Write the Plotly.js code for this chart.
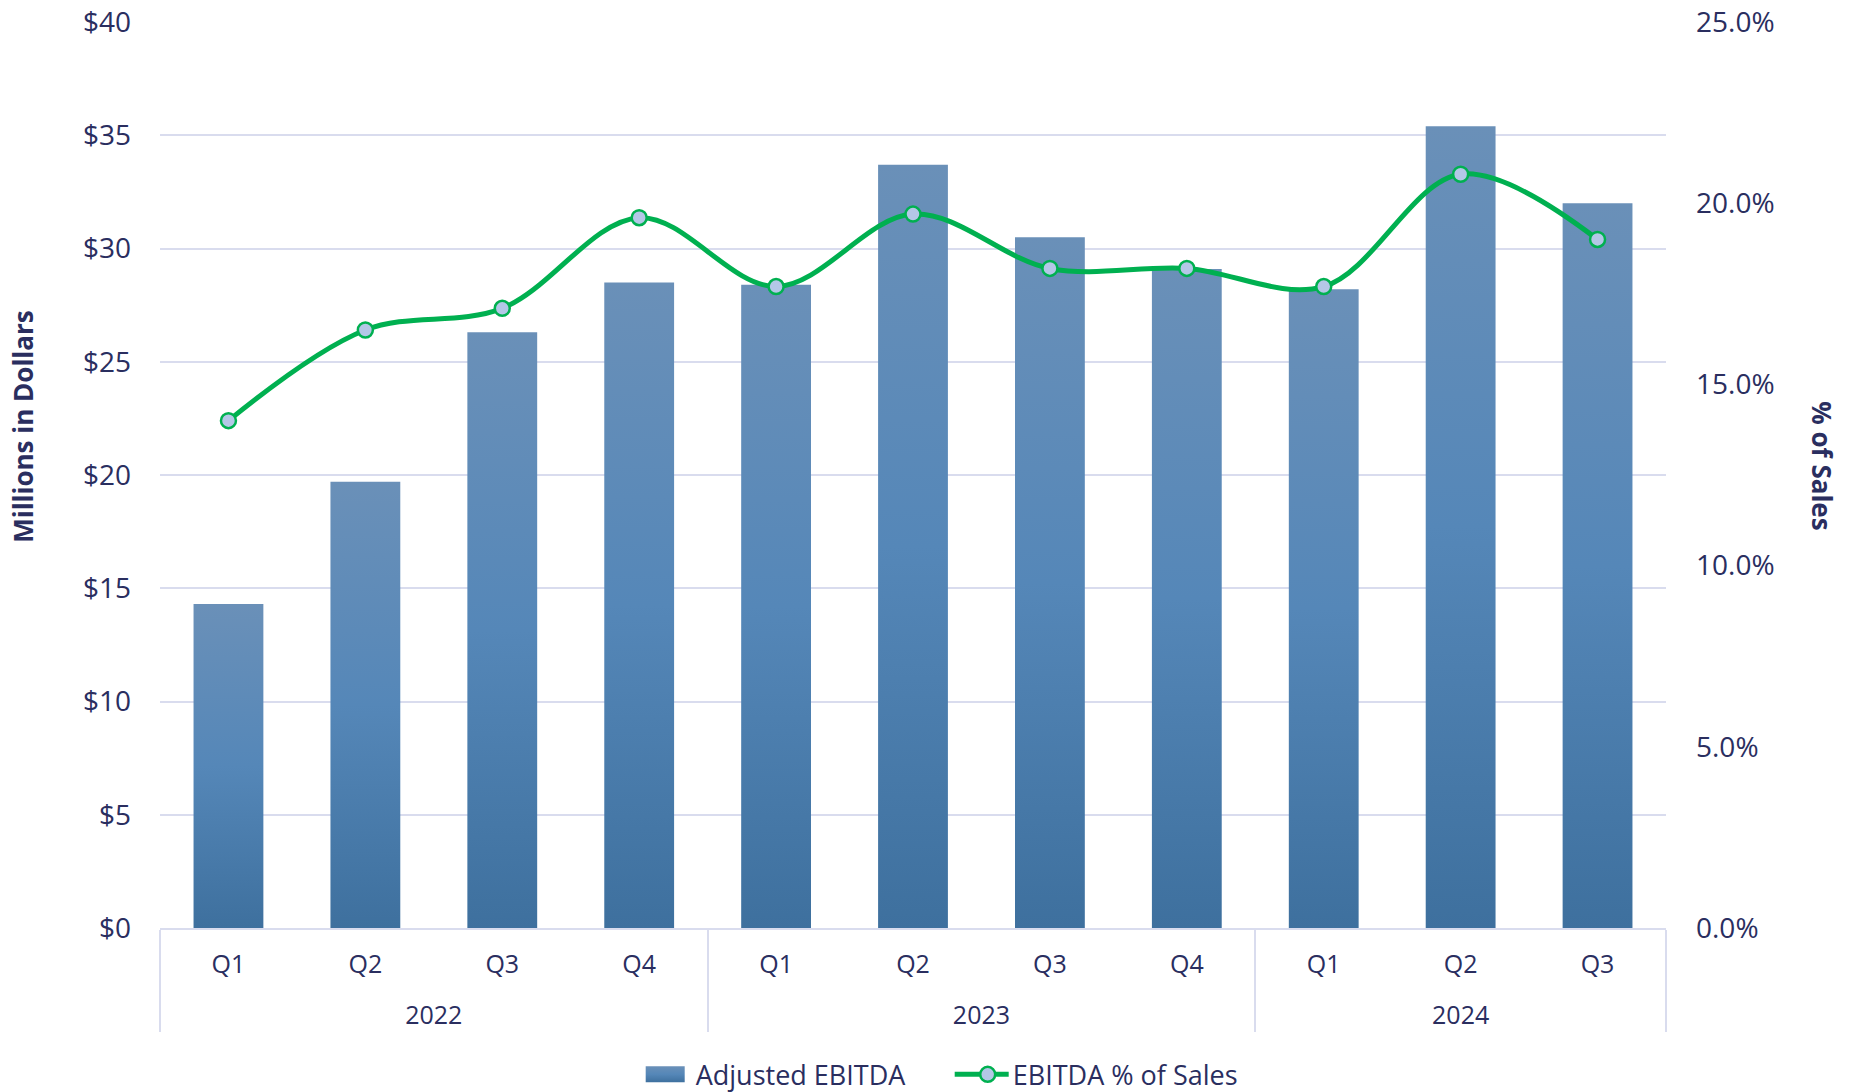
<!DOCTYPE html>
<html>
<head>
<meta charset="utf-8">
<script src="https://cdn.plot.ly/plotly-3.0.1.min.js"></script>
<style>
html,body{margin:0;padding:0;background:#fff;}
#chart{width:1849px;height:1092px;}
</style>
</head>
<body>
<div id="chart"></div>
<script>
// ---- data ----
var years = ["2022","2022","2022","2022","2023","2023","2023","2023","2024","2024","2024"];
var quarters = ["Q1","Q2","Q3","Q4","Q1","Q2","Q3","Q4","Q1","Q2","Q3"];
var adjustedEbitda = [14.3, 19.7, 26.3, 28.5, 28.4, 33.7, 30.5, 29.1, 28.2, 35.4, 32.0];
var ebitdaPctOfSales = [14.0, 16.5, 17.1, 19.6, 17.7, 19.7, 18.2, 18.2, 17.7, 20.8, 19.0];
var leftTicks = [0, 5, 10, 15, 20, 25, 30, 35, 40];
var leftTickText = ["$0", "$5", "$10", "$15", "$20", "$25", "$30", "$35", "$40"];
var rightTicks = [0, 5, 10, 15, 20, 25];
var rightTickText = ["0.0%", "5.0%", "10.0%", "15.0%", "20.0%", "25.0%"];

var textColor = "#2A2E5F";
var gridColor = "#D9DCEE";
var fontFam = "'Open Sans', 'Noto Sans', sans-serif";

var traces = [
  {
    type: "bar",
    name: "Adjusted EBITDA",
    x: [years, quarters],
    y: adjustedEbitda,
    marker: {color: "#5585B5"},
    yaxis: "y",
    hoverinfo: "y"
  },
  {
    type: "scatter",
    mode: "lines+markers",
    name: "EBITDA % of Sales",
    x: [years, quarters],
    y: ebitdaPctOfSales,
    yaxis: "y2",
    line: {color: "#00B050", width: 5, shape: "spline", smoothing: 1},
    marker: {symbol: "circle", size: 15, color: "#B4C7E7", line: {color: "#00B050", width: 2.5}}
  }
];

var layout = {
  width: 1849,
  height: 1092,
  paper_bgcolor: "#ffffff",
  plot_bgcolor: "#ffffff",
  font: {family: fontFam, color: textColor, size: 24},
  margin: {l: 160, r: 183, t: 22, b: 164, autoexpand: false},
  bargap: 0.49,
  showlegend: true,
  legend: {
    orientation: "h",
    x: 0.533, xanchor: "center",
    y: -0.162, yanchor: "middle",
    font: {size: 27, color: textColor},
    entrywidth: 262,
    entrywidthmode: "pixels",
    itemwidth: 40
  },
  xaxis: {
    type: "multicategory",
    range: [-0.5, 10.5],
    showline: true,
    linecolor: gridColor,
    linewidth: 2,
    showgrid: false,
    showdividers: true,
    dividercolor: gridColor,
    dividerwidth: 2,
    tickfont: {size: 25, color: textColor},
    ticks: ""
  },
  yaxis: {
    range: [0, 40],
    tickmode: "array",
    tickvals: leftTicks,
    ticktext: leftTickText,
    showgrid: true,
    gridcolor: gridColor,
    gridwidth: 2,
    zeroline: false,
    showline: false,
    tickfont: {size: 28, color: textColor},
    ticks: "",
    ticklabelstandoff: 28
  },
  yaxis2: {
    overlaying: "y",
    side: "right",
    range: [0, 25],
    tickmode: "array",
    tickvals: rightTicks,
    ticktext: rightTickText,
    showgrid: false,
    zeroline: false,
    showline: false,
    tickfont: {size: 28, color: textColor},
    ticks: "",
    ticklabelstandoff: 29
  },
  annotations: [
    {
      text: "<b>Millions in Dollars</b>",
      xref: "paper", yref: "paper",
      x: -0.0906, y: 0.5538,
      xanchor: "center", yanchor: "middle",
      textangle: -90,
      showarrow: false,
      font: {size: 26, color: textColor, family: fontFam}
    },
    {
      text: "<b>% of Sales</b>",
      xref: "paper", yref: "paper",
      x: 1.1036, y: 0.5107,
      xanchor: "center", yanchor: "middle",
      textangle: 90,
      showarrow: false,
      font: {size: 26, color: textColor, family: fontFam}
    }
  ]
};

Plotly.newPlot("chart", traces, layout, {displayModeBar: false, responsive: false}).then(function(gd){
  var svg = gd.querySelector("svg.main-svg");
  var defs = svg.querySelector("defs");
  var ns = "http://www.w3.org/2000/svg";
  var grad = document.createElementNS(ns, "linearGradient");
  grad.setAttribute("id", "barGrad");
  grad.setAttribute("x1", "0"); grad.setAttribute("y1", "0");
  grad.setAttribute("x2", "0"); grad.setAttribute("y2", "1");
  [["0", "#6A90B8"], ["0.5", "#5587B8"], ["1", "#3E709E"]].forEach(function(s){
    var st = document.createElementNS(ns, "stop");
    st.setAttribute("offset", s[0]);
    st.setAttribute("stop-color", s[1]);
    grad.appendChild(st);
  });
  defs.appendChild(grad);
  gd.querySelectorAll(".barlayer .point path").forEach(function(p){
    p.style.fill = "url(#barGrad)";
  });
  // legend swatches shaped like the reference
  gd.querySelectorAll(".legend .traces").forEach(function(tr){
    if (tr.querySelector(".js-line")) {
      tr.querySelectorAll(".js-line").forEach(function(p){ p.setAttribute("d", "M-8,0h54"); });
    } else {
      tr.querySelectorAll(".legendpoints path").forEach(function(p){
        p.setAttribute("d", "M-50,-8H14V8H-50Z");
        p.style.fill = "url(#barGrad)";
        p.style.stroke = "none";
      });
    }
  });
  // spacing of the two-level category labels
  function shift(sel, dy){
    gd.querySelectorAll(sel).forEach(function(g){
      var t = g.getAttribute("transform") || "";
      g.setAttribute("transform", t + " translate(0," + dy + ")");
    });
  }
  shift(".xaxislayer-above g.xtick", 13);
  shift(".xaxislayer-above g.xtick2", 28);
  gd.querySelectorAll("path.xdivider").forEach(function(p){
    var bb = p.getBBox();
    p.setAttribute("d", "M0," + bb.y + "v102");
  });
});
</script>
</body>
</html>
